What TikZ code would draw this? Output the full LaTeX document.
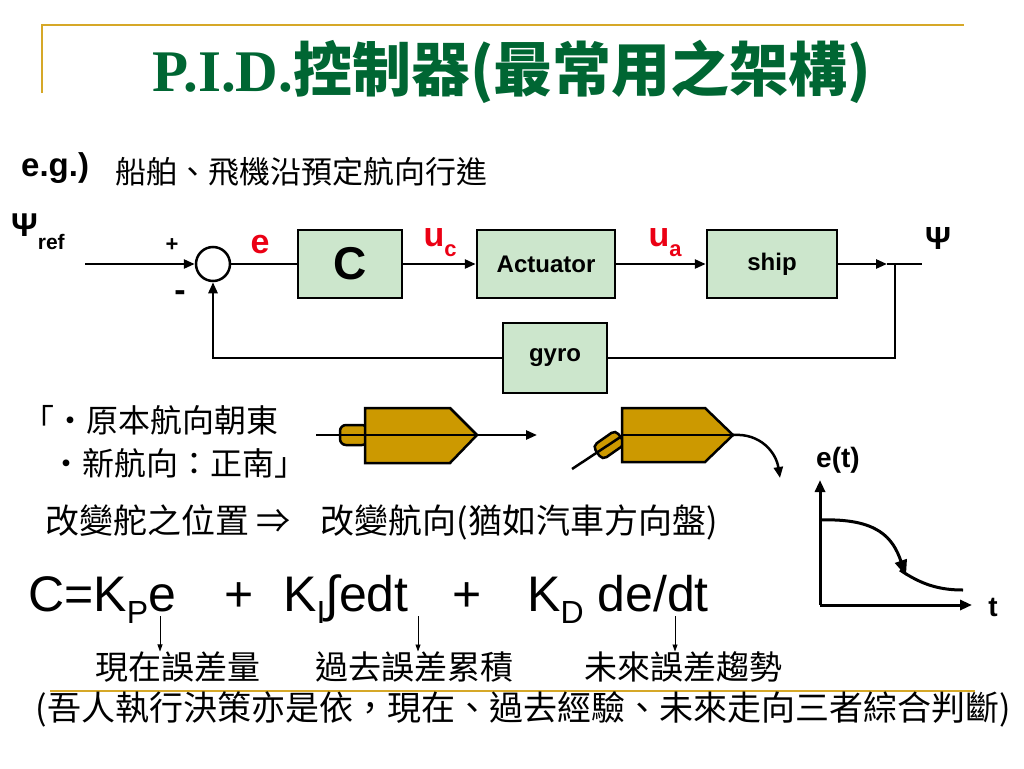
\documentclass[tikz,border=0pt]{standalone}
\usepackage{fontspec}
\setmainfont{Liberation Sans}
\newfontfamily\cjk{Noto Sans CJK TC}
\newfontfamily\serifbf{Liberation Serif}
\usetikzlibrary{arrows.meta}
\definecolor{boxgreen}{RGB}{204,230,204}
\definecolor{hull}{RGB}{204,153,0}
\definecolor{rulegold}{RGB}{214,168,40}
\definecolor{titlegreen}{RGB}{0,102,51}
\definecolor{sigred}{RGB}{235,0,20}
\newcommand{\setfs}[1]{\fontsize{#1}{#1}\selectfont}
\tikzset{
  blk/.style={draw,line width=2.5pt,fill=boxgreen,minimum height=68pt,inner sep=0pt,font=\bfseries\setfs{24}},
  sig/.style={line width=2.5pt,-{Triangle[length=11pt,width=9pt]}},
  wire/.style={line width=2.5pt},
  lbl/.style={inner sep=0pt,font=\bfseries\setfs{22}},
  redlbl/.style={inner sep=0pt,text=sigred,font=\bfseries\setfs{34}},
  cjktxt/.style={inner sep=0pt,anchor=west,font=\cjk\setfs{32}},
  formula/.style={inner sep=0pt,anchor=base west,font=\setfs{50}},
  hullshape/.style={fill=hull,draw,line width=2.5pt},
  axis/.style={line width=3pt,-{Triangle[length=12pt,width=10pt]}},
  tick/.style={line width=0.8pt,-{Triangle[length=7pt,width=5pt]}},
}
\begin{document}
\begin{tikzpicture}[x=1pt,y=-1pt]
\useasboundingbox (0,0) rectangle (1024,768);
% title
\draw[rulegold,line width=2pt] (42,93) -- (42,25) -- (964,25);
\node[inner sep=0pt,text=titlegreen,font=\bfseries\setfs{59}] (title) at (512,72) {{\serifbf P.I.D.}{\cjk 控制器(最常用之架構)}};
\node[inner sep=0pt,anchor=west,font=\bfseries\setfs{33}] (eg) at (21,168) {e.g.)};
\node[cjktxt,font=\cjk\setfs{31}] (task) at (115,172) {船舶、飛機沿預定航向行進};
% loop
\node[inner sep=0pt,anchor=west,font=\bfseries\setfs{33}] (psiref) at (11,232) {Ψ\raisebox{-0.4em}{\setfs{21}ref}};
\coordinate (in) at (85,264);
\node[circle,draw,line width=2.5pt,minimum size=34pt,inner sep=0pt] (sum) at (213,264) {};
\node[blk,minimum width=104pt,font=\bfseries\setfs{46}] (ctrl) at (350,264) {C};
\node[blk,minimum width=138pt] (act) at (546,264) {Actuator};
\node[blk,minimum width=130pt] (ship) at (772,264) {ship};
\node[blk,minimum width=104pt,minimum height=70pt] (gyro) at (555,358) {gyro};
\coordinate (tip) at (887,264);
\coordinate (br) at (895,264);
\coordinate (out) at (922,264);
\draw[sig] (in) -- (sum);
\draw[wire] (sum) -- (ctrl);
\draw[sig] (ctrl) -- (act);
\draw[sig] (act) -- (ship);
\draw[sig] (ship) -- (tip);
\draw[wire] (tip) -- (out);
\draw[wire] (br) |- (gyro);
\draw[sig] (gyro) -| (sum);
\node[lbl] (plus) at (172,245) {+};
\node[lbl,font=\bfseries\setfs{34}] (minus) at (180,296) {-};
\node[redlbl] (e) at (260,245) {e};
\node[redlbl] (uc) at (440,243) {u\raisebox{-0.3em}{\setfs{22}c}};
\node[redlbl] (ua) at (665,243) {u\raisebox{-0.3em}{\setfs{22}a}};
\node[lbl,font=\bfseries\setfs{32}] (psi) at (938,238) {Ψ};
% headings
\node[cjktxt] (east) at (22,420) {「‧原本航向朝東};
\node[cjktxt] (south) at (50,463) {‧新航向：正南」};
\node[cjktxt,font=\cjk\setfs{34}] (rudder) at (45,522) {改變舵之位置 ⇒\hspace{30pt}改變航向(猶如汽車方向盤)};
% ship going straight
\draw[hullshape,rounded corners=6pt] (340,425) rectangle (368,445);
\draw[hullshape] (365,408) -- (450,408) -- (477,435) -- (450,463) -- (365,463) -- cycle;
\draw[sig] (316,435) -- (537,435);
% ship turning
\node[hullshape,rounded corners=5pt,minimum width=28pt,minimum height=17pt,inner sep=0pt,rotate=35] (rud) at (609,445) {};
\draw[hullshape] (622,408) -- (705,408) -- (733,435) -- (705,462) -- (622,462) -- cycle;
\draw[wire] (622,435) -- (733,435);
\draw[wire] (572,469) -- (622,436);
\draw[sig] (733,435) .. controls (760,433) and (776,452) .. (780,478);
% e(t) graph
\coordinate (o) at (820,605);
\draw[axis] (o) -- (820,480);
\draw[axis] (o) -- (972,605);
\node[lbl,font=\bfseries\setfs{28}] (et) at (838,460) {e(t)};
\node[lbl,font=\bfseries\setfs{28}] (tl) at (993,607) {t};
\draw[line width=3pt,-{Triangle[length=16pt,width=12pt]}] (820,520) .. controls (878,518) and (893,538) .. (906,576);
\draw[line width=3pt] (900,570) .. controls (922,585) and (940,590) .. (963,590);
% formula
\node[formula] (fP) at (28,611) {C=K\raisebox{-0.25em}{\setfs{32}P}e};
\node[formula] (plus1) at (224,611) {+};
\node[formula] (fI) at (283,611) {K\raisebox{-0.25em}{\setfs{32}I}∫edt};
\node[formula] (plus2) at (452,611) {+};
\node[formula] (fD) at (527,611) {K\raisebox{-0.25em}{\setfs{32}D} de/dt};
\node[cjktxt,anchor=center,font=\cjk\setfs{33}] (lblP) at (178,667) {現在誤差量};
\node[cjktxt,anchor=center,font=\cjk\setfs{33}] (lblI) at (414,667) {過去誤差累積};
\node[cjktxt,anchor=center,font=\cjk\setfs{33}] (lblD) at (683,667) {未來誤差趨勢};
\coordinate (aP) at (160,616);
\coordinate (aI) at (418,616);
\coordinate (aD) at (675,616);
\draw[tick] (aP) -- (aP |- lblP.north);
\draw[tick] (aI) -- (aI |- lblI.north);
\draw[tick] (aD) -- (aD |- lblD.north);
\draw[rulegold,line width=2pt] (50,691) -- (975,691);
\node[cjktxt,anchor=center,font=\cjk\setfs{34}] (summary) at (523,709) {(吾人執行決策亦是依，現在、過去經驗、未來走向三者綜合判斷)};
\end{tikzpicture}
\end{document}
